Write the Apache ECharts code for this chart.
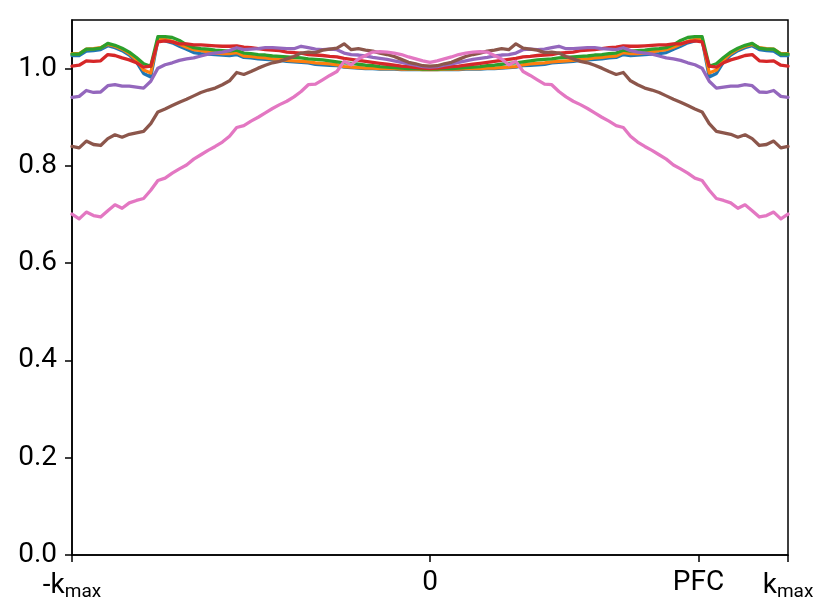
<!DOCTYPE html>
<html>
<head>
<meta charset="utf-8">
<script src="https://cdn.jsdelivr.net/npm/echarts@6/dist/echarts.min.js"></script>
<style>
html,body{margin:0;padding:0;background:#fff;}
#chart{width:830px;height:612px;}
</style>
</head>
<body>
<div id="chart"></div>
<script>
// x grid: k from -k_max (-1) to +k_max (+1), 101 samples
const kCount = 101;
const xTickValues = [-1, 0, 0.75, 1];
const xTickLabels = ['-k_max', '0', 'PFC', 'k_max'];
const yTickValues = [0, 0.2, 0.4, 0.6, 0.8, 1.0];

const seriesNames = ['s1', 's2', 's3', 's4', 's5', 's6', 's7'];
const seriesColors = ['#1f77b4', '#ff7f0e', '#2ca02c', '#d62728', '#9467bd', '#8c564b', '#e377c2'];

const blue = [1.027,1.027,1.036,1.037,1.039,1.047,1.043,1.037,1.028,1.014,0.990,0.983,
  1.060,1.057,1.053,1.046,1.040,1.033,1.031,1.030,1.029,1.028,1.027,1.029,
  1.023,1.022,1.020,1.019,1.018,1.017,1.015,1.014,1.013,1.012,1.009,1.008,
  1.007,1.006,1.003,1.002,1.001,1.000,1.000,0.999,0.999,0.999,0.998,0.998,0.998,0.998,0.998,
  0.998,0.998,0.998,0.998,0.999,0.999,0.999,1.000,1.000,1.001,1.002,1.003,1.006,1.007,
  1.008,1.009,1.012,1.013,1.014,1.015,1.017,1.018,1.019,1.020,1.022,1.023,
  1.029,1.027,1.028,1.029,1.030,1.031,1.033,1.040,1.046,1.053,1.057,1.060,
  0.983,0.990,1.014,1.028,1.037,1.043,1.047,1.039,1.037,1.036,1.027,1.027];

const orange = [1.031,1.031,1.040,1.041,1.043,1.050,1.046,1.040,1.031,1.018,0.997,0.991,
  1.062,1.060,1.056,1.050,1.044,1.039,1.037,1.035,1.032,1.031,1.031,1.033,
  1.026,1.025,1.023,1.022,1.020,1.019,1.017,1.016,1.015,1.014,1.012,1.011,
  1.010,1.008,1.004,1.003,1.002,1.001,1.001,1.000,1.000,1.000,0.999,0.999,0.999,0.998,0.998,
  0.998,0.999,0.999,0.999,1.000,1.000,1.000,1.001,1.001,1.002,1.003,1.004,1.008,1.010,
  1.011,1.012,1.014,1.015,1.016,1.017,1.019,1.020,1.022,1.023,1.025,1.026,
  1.033,1.031,1.031,1.032,1.035,1.037,1.039,1.044,1.050,1.056,1.060,1.062,
  0.991,0.997,1.018,1.031,1.040,1.046,1.050,1.043,1.041,1.040,1.031,1.031];

const green = [1.030,1.030,1.040,1.040,1.042,1.052,1.048,1.042,1.034,1.023,1.010,1.005,
  1.066,1.066,1.064,1.058,1.049,1.043,1.041,1.040,1.038,1.037,1.036,1.038,
  1.032,1.031,1.029,1.028,1.026,1.025,1.024,1.023,1.022,1.020,1.019,1.018,
  1.016,1.014,1.012,1.011,1.009,1.007,1.006,1.004,1.003,1.002,1.001,1.000,1.000,0.999,0.999,
  0.999,1.000,1.000,1.001,1.002,1.003,1.004,1.006,1.007,1.009,1.011,1.012,1.014,1.016,
  1.018,1.019,1.020,1.022,1.023,1.024,1.025,1.026,1.028,1.029,1.031,1.032,
  1.038,1.036,1.037,1.038,1.040,1.041,1.043,1.049,1.058,1.064,1.066,1.066,
  1.005,1.010,1.023,1.034,1.042,1.048,1.052,1.042,1.040,1.040,1.030,1.030];

const red = [1.005,1.007,1.016,1.015,1.016,1.029,1.027,1.022,1.018,1.012,1.003,1.005,
  1.055,1.057,1.055,1.051,1.051,1.049,1.049,1.048,1.047,1.046,1.046,1.047,
  1.044,1.043,1.041,1.039,1.038,1.037,1.034,1.033,1.032,1.029,1.028,1.027,
  1.025,1.024,1.021,1.019,1.017,1.015,1.013,1.011,1.009,1.007,1.005,1.004,1.002,1.001,1.000,
  1.001,1.002,1.004,1.005,1.007,1.009,1.011,1.013,1.015,1.017,1.019,1.021,1.024,1.025,
  1.027,1.028,1.029,1.032,1.033,1.034,1.037,1.038,1.039,1.041,1.043,1.044,
  1.047,1.046,1.046,1.047,1.048,1.049,1.049,1.051,1.051,1.055,1.057,1.055,
  1.005,1.003,1.012,1.018,1.022,1.027,1.029,1.016,1.015,1.016,1.007,1.005];

const purple = [0.941,0.943,0.955,0.951,0.952,0.965,0.967,0.964,0.964,0.962,0.960,0.974,
  1.001,1.008,1.012,1.017,1.020,1.022,1.026,1.030,1.032,1.034,1.037,1.043,
  1.039,1.040,1.041,1.043,1.043,1.042,1.041,1.041,1.046,1.043,1.040,1.039,
  1.040,1.039,1.032,1.029,1.028,1.026,1.023,1.021,1.019,1.016,1.013,1.010,1.007,1.004,1.003,
  1.004,1.007,1.010,1.013,1.016,1.019,1.021,1.023,1.026,1.028,1.029,1.032,1.039,1.040,
  1.039,1.040,1.043,1.046,1.041,1.041,1.042,1.043,1.043,1.041,1.040,1.039,
  1.043,1.037,1.034,1.032,1.030,1.026,1.022,1.020,1.017,1.012,1.008,1.001,
  0.974,0.960,0.962,0.964,0.964,0.967,0.965,0.952,0.951,0.955,0.943,0.941];

const brown = [0.840,0.837,0.851,0.844,0.842,0.856,0.864,0.859,0.865,0.868,0.871,0.887,
  0.911,0.917,0.924,0.931,0.937,0.944,0.951,0.956,0.960,0.967,0.975,0.992,
  0.988,0.994,1.001,1.007,1.012,1.015,1.020,1.025,1.032,1.034,1.033,1.038,
  1.040,1.042,1.051,1.039,1.041,1.038,1.036,1.032,1.029,1.025,1.019,1.013,1.010,1.006,1.005,
  1.006,1.010,1.013,1.019,1.025,1.029,1.032,1.036,1.038,1.041,1.039,1.051,1.042,1.040,
  1.038,1.033,1.034,1.032,1.025,1.020,1.015,1.012,1.007,1.001,0.994,0.988,
  0.992,0.975,0.967,0.960,0.956,0.951,0.944,0.937,0.931,0.924,0.917,0.911,
  0.887,0.871,0.868,0.865,0.859,0.864,0.856,0.842,0.844,0.851,0.837,0.840];

const pink = [0.701,0.691,0.705,0.698,0.695,0.708,0.720,0.713,0.724,0.729,0.733,0.750,
  0.770,0.775,0.785,0.794,0.802,0.814,0.823,0.832,0.840,0.849,0.861,0.879,
  0.883,0.892,0.900,0.909,0.918,0.926,0.933,0.942,0.953,0.967,0.968,0.977,
  0.986,0.994,1.015,1.008,1.020,1.027,1.034,1.035,1.034,1.032,1.029,1.024,1.020,1.016,1.013,
  1.016,1.020,1.024,1.029,1.032,1.034,1.035,1.034,1.027,1.020,1.008,1.015,0.994,0.986,
  0.977,0.968,0.967,0.953,0.942,0.933,0.926,0.918,0.909,0.900,0.892,0.883,
  0.879,0.861,0.849,0.840,0.832,0.823,0.814,0.802,0.794,0.785,0.775,0.770,
  0.750,0.733,0.729,0.724,0.713,0.720,0.708,0.695,0.698,0.705,0.691,0.701];

const allSeries = [blue, orange, green, red, purple, brown, pink];

const kGrid = [];
for (let i = 0; i < kCount; i++) kGrid.push(-1 + 2 * i / (kCount - 1));

const FONT = 'Roboto';
const chart = echarts.init(document.getElementById('chart'), null, {renderer: 'canvas'});

function xLabel(v) {
  let idx = -1;
  for (let i = 0; i < xTickValues.length; i++) {
    if (Math.abs(xTickValues[i] - v) < 1e-6) idx = i;
  }
  if (idx < 0) return '';
  const t = xTickLabels[idx];
  if (t.indexOf('_') >= 0) {
    const p = t.split('_');
    return '{m|' + p[0] + '}{s|' + p[1] + '}';
  }
  return '{m|' + t + '}';
}

chart.setOption({
  animation: false,
  backgroundColor: '#fff',
  grid: {left: 72, right: 42, top: 20, bottom: 57, show: true, borderColor: '#000', borderWidth: 1.5, backgroundColor: 'transparent'},
  xAxis: {
    type: 'value', min: -1, max: 1,
    splitLine: {show: false},
    axisLine: {show: true, onZero: false, lineStyle: {color: '#000', width: 1.5}},
    axisTick: {show: true, length: 7, inside: false, lineStyle: {color: '#000', width: 1.5}, customValues: xTickValues},
    axisLabel: {
      show: true, margin: 14, color: '#000', fontFamily: FONT, fontSize: 28,
      customValues: xTickValues,
      formatter: xLabel,
      rich: {
        m: {fontFamily: FONT, fontSize: 28, color: '#000'},
        s: {fontFamily: FONT, fontSize: 19, color: '#000', padding: [14, 0, 0, 0]}
      }
    }
  },
  yAxis: {
    type: 'value', min: 0, max: 1.1,
    splitLine: {show: false},
    axisLine: {show: true, onZero: false, lineStyle: {color: '#000', width: 1.5}},
    axisTick: {show: true, length: 7, inside: false, lineStyle: {color: '#000', width: 1.5}, customValues: yTickValues},
    axisLabel: {
      show: true, margin: 15, color: '#000', fontFamily: FONT, fontSize: 28,
      customValues: yTickValues,
      formatter: function (v) { return v.toFixed(1); }
    }
  },
  series: allSeries.map(function (arr, si) {
    return {
      name: seriesNames[si],
      type: 'line',
      showSymbol: false,
      symbol: 'none',
      color: seriesColors[si],
      lineStyle: {width: 3.3, color: seriesColors[si], join: 'round', cap: 'round'},
      data: arr.map(function (v, i) { return [kGrid[i], v]; }),
      z: 2 + si
    };
  })
});
</script>
</body>
</html>
